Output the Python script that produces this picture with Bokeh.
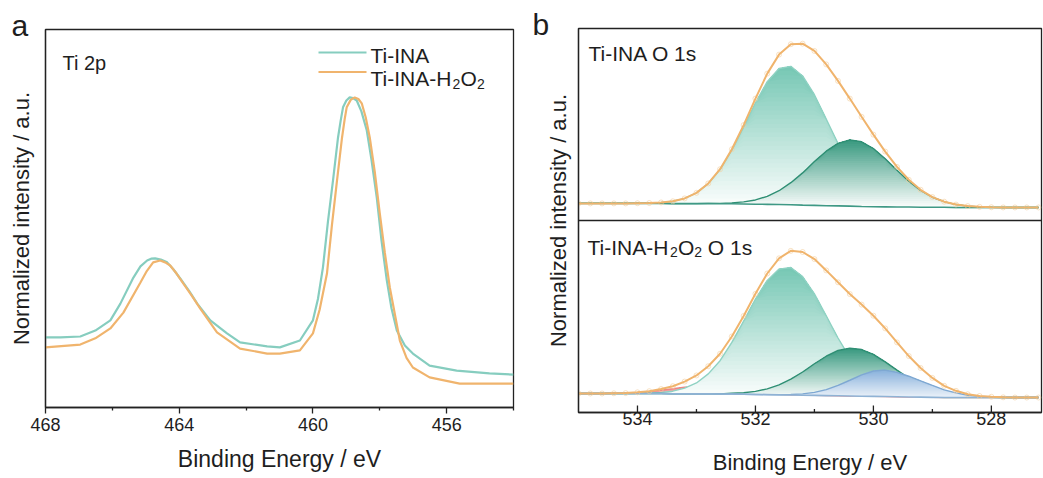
import numpy as np
from bokeh.plotting import figure
from bokeh.layouts import row
from bokeh.models import Range1d, FixedTicker, Label, Span
from bokeh.embed import file_html
from bokeh.resources import INLINE

FONT = "Liberation Sans"
TXT = "#1e1e1e"

# ---------------- Panel a data: Ti 2p ----------------
ti2p_be_ina = [468.0, 467.55, 466.96, 466.51, 466.06, 465.76, 465.37, 465.16, 464.96, 464.84,
               464.72, 464.55, 464.36, 464.17, 463.97, 463.70, 463.46, 463.07, 462.57, 462.18,
               461.37, 460.99, 460.39, 460.0, 459.85, 459.70, 459.55, 459.40, 459.25, 459.17,
               459.10, 459.00, 458.90, 458.80, 458.69, 458.55, 458.39, 458.25, 458.09, 457.95,
               457.79, 457.65, 457.49, 457.25, 457.01, 456.51, 455.70, 454.72, 454.0]
ti2p_int_ina = [0.226, 0.226, 0.229, 0.248, 0.281, 0.335, 0.419, 0.455, 0.474, 0.480,
                0.481, 0.477, 0.468, 0.445, 0.416, 0.375, 0.335, 0.281, 0.239, 0.210,
                0.197, 0.194, 0.216, 0.281, 0.350, 0.452, 0.600, 0.732, 0.870, 0.925,
                0.968, 0.990, 1.000, 0.998, 0.990, 0.955, 0.894, 0.800, 0.677, 0.540,
                0.410, 0.320, 0.248, 0.200, 0.174, 0.135, 0.119, 0.110, 0.106]

ti2p_be_h2o2 = [468.0, 466.96, 466.51, 466.06, 465.67, 465.16, 464.97, 464.78, 464.57, 464.42,
                464.27, 464.08, 463.88, 463.62, 463.37, 462.87, 462.18, 461.37, 460.99, 460.39,
                460.0, 459.80, 459.58, 459.43, 459.28, 459.13, 459.05, 458.99, 458.87, 458.75,
                458.64, 458.54, 458.42, 458.30, 458.15, 458.0, 457.85, 457.70, 457.40, 457.20,
                457.01, 456.51, 455.61, 454.0]
ti2p_int_h2o2 = [0.194, 0.203, 0.223, 0.255, 0.306, 0.403, 0.440, 0.468, 0.474, 0.468,
                 0.458, 0.432, 0.400, 0.360, 0.319, 0.242, 0.190, 0.174, 0.174, 0.184,
                 0.239, 0.315, 0.432, 0.590, 0.732, 0.870, 0.930, 0.968, 0.992, 1.000,
                 0.995, 0.981, 0.935, 0.871, 0.760, 0.626, 0.500, 0.387, 0.216, 0.160,
                 0.129, 0.097, 0.077, 0.077]

a_ticks = [468, 464, 460, 456]

# ---------------- Panel b data: O 1s ----------------
o1s_be = [535.0, 534.8, 534.6, 534.4, 534.2, 534.0, 533.8, 533.6, 533.4, 533.2,
          533.0, 532.8, 532.6, 532.4, 532.2, 532.0, 531.8, 531.6, 531.4, 531.2,
          531.0, 530.8, 530.6, 530.4, 530.2, 530.0, 529.8, 529.6, 529.4, 529.2,
          529.0, 528.8, 528.6, 528.4, 528.2, 528.0, 527.8, 527.6, 527.4, 527.2]

# Ti-INA O 1s (top sub-panel)
ina_bg = [0.089, 0.089, 0.089, 0.089, 0.089, 0.089, 0.089, 0.089, 0.088, 0.088,
          0.088, 0.088, 0.087, 0.087, 0.086, 0.085, 0.084, 0.083, 0.082, 0.080,
          0.079, 0.077, 0.076, 0.075, 0.073, 0.072, 0.071, 0.070, 0.070, 0.069,
          0.069, 0.069, 0.068, 0.068, 0.068, 0.068, 0.068, 0.068, 0.068, 0.068]
ina_peak1 = [0, 0, 0, 0, 0, 0.001, 0.002, 0.005, 0.012, 0.027,
             0.056, 0.104, 0.178, 0.279, 0.400, 0.528, 0.639, 0.709, 0.721, 0.673,
             0.576, 0.452, 0.325, 0.215, 0.130, 0.072, 0.037, 0.017, 0.007, 0.003,
             0.001, 0, 0, 0, 0, 0, 0, 0, 0, 0]
ina_peak2 = [0, 0, 0, 0, 0, 0, 0, 0, 0, 0,
             0, 0.001, 0.002, 0.005, 0.011, 0.022, 0.042, 0.072, 0.115, 0.168,
             0.228, 0.284, 0.326, 0.345, 0.337, 0.303, 0.251, 0.192, 0.135, 0.088,
             0.052, 0.029, 0.015, 0.007, 0.003, 0.001, 0, 0, 0, 0]
ina_env = [0.089, 0.089, 0.089, 0.089, 0.089, 0.090, 0.091, 0.094, 0.100, 0.115,
           0.144, 0.193, 0.267, 0.371, 0.497, 0.635, 0.765, 0.864, 0.918, 0.921,
           0.883, 0.813, 0.727, 0.635, 0.540, 0.447, 0.359, 0.279, 0.212, 0.160,
           0.122, 0.098, 0.083, 0.075, 0.071, 0.069, 0.068, 0.068, 0.068, 0.068]

# Ti-INA-H2O2 O 1s (bottom sub-panel)
h2o2_bg = [0.099, 0.099, 0.099, 0.099, 0.099, 0.099, 0.099, 0.099, 0.098, 0.098,
           0.097, 0.097, 0.096, 0.096, 0.095, 0.094, 0.093, 0.092, 0.091, 0.090,
           0.089, 0.088, 0.087, 0.086, 0.085, 0.084, 0.083, 0.082, 0.081, 0.080,
           0.079, 0.078, 0.078, 0.078, 0.078, 0.078, 0.078, 0.078, 0.078, 0.078]
h2o2_red = [0, 0, 0, 0.001, 0.002, 0.005, 0.010, 0.017, 0.026, 0.034,
            0.039, 0.040, 0.035, 0.027, 0.019, 0.011, 0.006, 0.003, 0.001, 0,
            0, 0, 0, 0, 0, 0, 0, 0, 0, 0,
            0, 0, 0, 0, 0, 0, 0, 0, 0, 0]
h2o2_peak1 = [0, 0, 0, 0, 0, 0.001, 0.002, 0.006, 0.013, 0.029,
              0.057, 0.104, 0.174, 0.269, 0.381, 0.497, 0.595, 0.655, 0.664, 0.618,
              0.529, 0.416, 0.301, 0.200, 0.123, 0.069, 0.036, 0.017, 0.007, 0.003,
              0.001, 0, 0, 0, 0, 0, 0, 0, 0, 0]
h2o2_peak2 = [0, 0, 0, 0, 0, 0, 0, 0, 0, 0,
              0, 0, 0.001, 0.004, 0.008, 0.016, 0.030, 0.052, 0.083, 0.121,
              0.165, 0.205, 0.236, 0.249, 0.243, 0.219, 0.181, 0.139, 0.098, 0.064,
              0.038, 0.021, 0.011, 0.005, 0.002, 0.001, 0, 0, 0, 0]
h2o2_blue = [0, 0, 0, 0, 0, 0, 0, 0, 0, 0,
             0, 0, 0, 0, 0, 0, 0, 0.001, 0.003, 0.007,
             0.016, 0.031, 0.054, 0.082, 0.111, 0.132, 0.138, 0.127, 0.108, 0.085,
             0.062, 0.040, 0.024, 0.012, 0.006, 0.003, 0.001, 0, 0, 0]
h2o2_env = [0.099, 0.099, 0.099, 0.100, 0.101, 0.105, 0.111, 0.122, 0.137, 0.161,
            0.193, 0.241, 0.306, 0.396, 0.503, 0.618, 0.724, 0.803, 0.842, 0.836,
            0.799, 0.740, 0.678, 0.617, 0.562, 0.504, 0.438, 0.365, 0.294, 0.232,
            0.180, 0.139, 0.113, 0.095, 0.086, 0.082, 0.079, 0.078, 0.078, 0.078]

b_ticks = [534, 532, 530, 528]

# ---------------- styling ----------------
C_TEAL = "#86cdbf"
C_ORANGE = "#f0b46d"
C_L_LINE, C_L_FILL = "#8fd2c3", "#78c8b5"
C_D_LINE, C_D_FILL = "#2f8f74", "#3a9a80"
C_B_LINE, C_B_FILL = "#7ea8d2", "#8ab2dc"
C_R_LINE, C_R_FILL = "#ee8686", "#f19090"
C_BG_TOP = "#3f9985"
C_BG_BOT = "#8fb2d4"
C_AX = "#222222"

# panel geometry (canvas pixels)
AW, AH = 530, 478
A_L, A_R, A_T, A_B = 45, 513, 29, 407
A_X0, A_X1, A_Y0, A_Y1 = 468.0, 454.0, 0.0, 1.219

BW, BH = 513, 478
B_L, B_R, B_T, B_B = 578 - AW, 1041 - AW, 28, 412
B_X0, B_X1, B_Y0, B_Y1 = 535.0, 527.15, 0.0, 2.0
B_PX = (B_Y1 - B_Y0) / (B_B - B_T)   # data units per pixel (y)


def a_xy(px, py):
    x = A_X0 + (px - A_L) / (A_R - A_L) * (A_X1 - A_X0)
    y = A_Y0 + (A_B - py) / (A_B - A_T) * (A_Y1 - A_Y0)
    return x, y


def b_xy(px, py):
    px = px - AW
    x = B_X0 + (px - B_L) / (B_R - B_L) * (B_X1 - B_X0)
    y = B_Y0 + (B_B - py) / (B_B - B_T) * (B_Y1 - B_Y0)
    return x, y


def style_axes(p, xtitle_size):
    for ax in (p.xaxis[0], p.yaxis[0]):
        ax.axis_line_color = C_AX
        ax.axis_line_width = 1.3
        ax.major_tick_line_color = C_AX
        ax.minor_tick_line_color = C_AX
        ax.major_tick_line_width = 1.3
        ax.minor_tick_line_width = 1.3
        ax.major_label_text_font = FONT
        ax.major_label_text_font_size = "18px"
        ax.major_label_text_color = TXT
        ax.axis_label_text_font = FONT
        ax.axis_label_text_font_style = "normal"
        ax.axis_label_text_color = TXT
    p.xaxis.axis_label_text_font_size = xtitle_size
    p.yaxis.axis_label_text_font_size = "22px"
    p.yaxis.ticker = FixedTicker(ticks=[], minor_ticks=[])
    p.yaxis.major_tick_out = 0
    p.yaxis.major_tick_in = 0
    p.yaxis.major_label_standoff = 0
    p.xgrid.visible = False
    p.ygrid.visible = False
    p.outline_line_color = C_AX
    p.outline_line_width = 1.3
    p.outline_line_alpha = 1.0
    p.frame_align = False


def panel_letter(p, text, offset):
    p.title.text = text
    p.title.align = "left"
    p.title.offset = offset
    p.title.standoff = -24
    p.title.text_font = FONT
    p.title.text_font_size = "30px"
    p.title.text_font_style = "normal"
    p.title.text_color = TXT


def label(p, x, y, text, size):
    p.add_layout(Label(x=x, y=y, text=text, text_font=FONT, text_font_size=size,
                       text_color=TXT, text_align="left", text_baseline="alphabetic"))


def mix(hexcol, t):
    r, g, b = int(hexcol[1:3], 16), int(hexcol[3:5], 16), int(hexcol[5:7], 16)
    return "#%02x%02x%02x" % (round(255 + (r - 255) * t), round(255 + (g - 255) * t),
                              round(255 + (b - 255) * t))


def gradient_peak(p, x, base, comp, fill, line, yoff=0.0, n=32, lw=1.4, t0=0.0):
    base = np.asarray(base, float) + yoff
    top = base + np.asarray(comp, float)
    levels = np.linspace(base.min(), top.max(), n + 1)
    for k in range(n):
        lo = np.minimum(np.maximum(base, levels[k]), top)
        t = t0 + (1 - t0) * (k + 1) / n
        p.varea(x=x, y1=lo, y2=top, fill_color=mix(fill, t), fill_alpha=1.0)
    p.line(x, top, line_color=line, line_width=lw)


# ---------------- Panel a ----------------
pa = figure(width=AW, height=AH, x_range=Range1d(A_X0, A_X1), y_range=Range1d(A_Y0, A_Y1),
            output_backend="svg", toolbar_location=None,
            min_border_left=A_L, min_border_right=AW - A_R, min_border_top=A_T,
            min_border_bottom=AH - A_B)
style_axes(pa, "23px")
pa.xaxis.ticker = FixedTicker(ticks=a_ticks, minor_ticks=[t - 2 for t in a_ticks])
pa.xaxis.major_tick_out = 6
pa.xaxis.major_tick_in = 0
pa.xaxis.minor_tick_out = 3
pa.xaxis.minor_tick_in = 0
pa.xaxis.major_label_standoff = 4
pa.xaxis.axis_label_standoff = 12
pa.xaxis.axis_label = "Binding Energy / eV"
pa.yaxis.axis_label = "Normalized intensity / a.u."
pa.yaxis.axis_label_standoff = 12
panel_letter(pa, "a", 11 - A_L)

pa.line(ti2p_be_ina, ti2p_int_ina, line_color=C_TEAL, line_width=2.2)
pa.line(ti2p_be_h2o2, ti2p_int_h2o2, line_color=C_ORANGE, line_width=2.2)

# legend (manual, for subscripts)
x0, y0 = a_xy(318, 52)
x1, _ = a_xy(366, 52)
pa.segment(x0=[x0], y0=[y0], x1=[x1], y1=[y0], line_color=C_TEAL, line_width=2.2)
x0, y0 = a_xy(318, 71.5)
pa.segment(x0=[x0], y0=[y0], x1=[x1], y1=[y0], line_color=C_ORANGE, line_width=2.2)
label(pa, *a_xy(370, 55), "Ti-INA", "21px")
label(pa, *a_xy(370, 78.3), "Ti-INA-H", "21px")
label(pa, *a_xy(452.0, 83.5), "2", "14px")
label(pa, *a_xy(460.0, 78.3), "O", "21px")
label(pa, *a_xy(476.5, 83.5), "2", "14px")

label(pa, *a_xy(62, 62), "Ti 2p", "20px")

# ---------------- Panel b ----------------
pb = figure(width=BW, height=BH, x_range=Range1d(B_X0, B_X1), y_range=Range1d(B_Y0, B_Y1),
            output_backend="svg", toolbar_location=None,
            min_border_left=B_L, min_border_right=BW - B_R, min_border_top=B_T,
            min_border_bottom=BH - B_B)
style_axes(pb, "22px")
pb.xaxis.ticker = FixedTicker(ticks=b_ticks, minor_ticks=[])
pb.xaxis.major_tick_out = 0
pb.xaxis.major_tick_in = 0
pb.xaxis.minor_tick_out = 0
pb.xaxis.minor_tick_in = 0
pb.xaxis.major_label_standoff = -1
pb.xaxis.axis_label_standoff = 22
pb.xaxis.axis_label = "Binding Energy / eV"
pb.yaxis.axis_label = "Normalized intensity / a.u."
pb.yaxis.axis_label_standoff = 8
panel_letter(pb, "b", 2 - B_L)

x = np.asarray(o1s_be, float)

# top: Ti-INA O 1s (offset by 1)
gradient_peak(pb, x, ina_bg, ina_peak1, C_L_FILL, C_L_LINE, yoff=1.0)
gradient_peak(pb, x, ina_bg, ina_peak2, C_D_FILL, C_D_LINE, yoff=1.0)
pb.line(x, np.asarray(ina_bg) + 1.0, line_color=C_BG_TOP, line_width=1.6)
pb.scatter(x, np.asarray(ina_env) + 1.0, size=5, marker="circle", fill_color=None,
           line_color="#f3cf9f", line_alpha=0.6, line_width=1)
pb.line(x, np.asarray(ina_env) + 1.0, line_color=C_ORANGE, line_width=2.0)

# bottom: Ti-INA-H2O2 O 1s
gradient_peak(pb, x, h2o2_bg, h2o2_red, C_R_FILL, C_R_LINE, t0=0.5)
gradient_peak(pb, x, h2o2_bg, h2o2_peak1, C_L_FILL, C_L_LINE)
gradient_peak(pb, x, h2o2_bg, h2o2_peak2, C_D_FILL, C_D_LINE)
gradient_peak(pb, x, h2o2_bg, h2o2_blue, C_B_FILL, C_B_LINE, t0=0.15)
pb.line(x, h2o2_bg, line_color=C_BG_BOT, line_width=1.6)
pb.scatter(x, h2o2_env, size=5, marker="circle", fill_color=None,
           line_color="#f3cf9f", line_alpha=0.6, line_width=1)
pb.line(x, h2o2_env, line_color=C_ORANGE, line_width=2.0)

# inward ticks on the bottom axis of panel b
pb.segment(x0=b_ticks, y0=[B_Y0] * len(b_ticks), x1=b_ticks,
           y1=[B_Y0 + 7 * B_PX] * len(b_ticks), line_color=C_AX, line_width=1.3)
b_minor = [t - 1 for t in b_ticks]
pb.segment(x0=b_minor, y0=[B_Y0] * len(b_minor), x1=b_minor,
           y1=[B_Y0 + 3.5 * B_PX] * len(b_minor), line_color=C_AX, line_width=1.3)

pb.add_layout(Span(location=1.0, dimension="width", line_color=C_AX, line_width=1.3))

label(pb, *b_xy(588, 53.3), "Ti-INA O 1s", "21px")
label(pb, *b_xy(587, 246.7), "Ti-INA-H", "21px")
label(pb, *b_xy(669.6, 251.7), "2", "14px")
label(pb, *b_xy(677.4, 246.7), "O", "21px")
label(pb, *b_xy(693.7, 251.7), "2", "14px")
label(pb, *b_xy(707.3, 246.7), "O 1s", "21px")

layout = row(pa, pb)
open("out.html", "w").write(file_html(layout, INLINE))
